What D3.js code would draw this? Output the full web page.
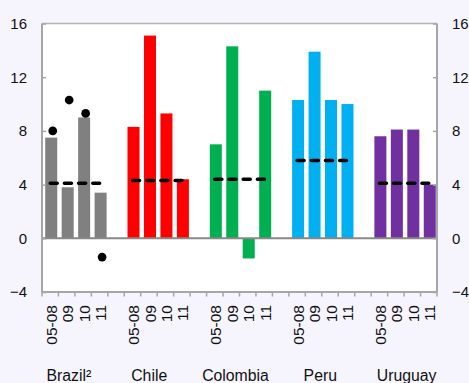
<!DOCTYPE html>
<html>
<head>
<meta charset="utf-8">
<script src="https://cdn.jsdelivr.net/npm/d3@7/dist/d3.min.js"></script>
<style>
  html, body { margin: 0; padding: 0; background: #f6f4fd; }
  svg { display: block; font-family: "Liberation Sans", Arial, sans-serif; }
</style>
</head>
<body>
<svg id="chart" width="469" height="383"></svg>
<script>
// Countries and the periods shown for each
const countries = ["Brazil²", "Chile", "Colombia", "Peru", "Uruguay"];
const periods = ["05-08", "09", "10", "11"];

// Bar values per country, in period order
const brazil   = [7.5, 3.8, 9.0, 3.4];
const chile    = [8.3, 15.1, 9.3, 4.4];
const colombia = [7.0, 14.3, -1.5, 11.0];
const peru     = [10.3, 13.9, 10.3, 10.0];
const uruguay  = [7.6, 8.1, 8.1, 4.0];

// Average level drawn as a dashed line across each group
const averages = [4.1, 4.3, 4.4, 5.8, 4.1];

// Alternative Brazil measure shown as markers
const brazilMarkers = [8.0, 10.3, 9.3, -1.4];

// Y axis ticks
const yTicks = [-4, 0, 4, 8, 12, 16];

const seriesValues = [brazil, chile, colombia, peru, uruguay];
const colors = ["#808080", "#ff0000", "#00b050", "#00b0f0", "#7030a0"];
// small horizontal shifts for the country captions
const captionShift = [-6, -8, -4, -1.5, 2.5];

const svg = d3.select("#chart");
const plotL = 42, plotR = 437, plotT = 23.5, plotB = 292;

// 24 slots: 4 per country plus one empty slot between countries
const slots = [];
countries.forEach((c, ci) => {
  periods.forEach((p, pi) => slots.push(ci + "|" + pi));
  if (ci < countries.length - 1) slots.push("gap" + ci);
});

const x = d3.scaleBand().domain(slots).range([plotL, plotR]).paddingInner(0.27).paddingOuter(0.135);
const xStep = d3.scaleBand().domain(slots).range([plotL, plotR]);
const y = d3.scaleLinear().domain([-4, 16]).range([plotB, plotT]);
const cx = key => xStep(key) + xStep.bandwidth() / 2;

// plot area
svg.append("rect").attr("x", plotL).attr("y", plotT)
  .attr("width", plotR - plotL).attr("height", plotB - plotT)
  .attr("fill", "#ffffff");

// bars
const barData = [];
seriesValues.forEach((vals, ci) => vals.forEach((v, pi) => barData.push({ci, pi, v})));
svg.append("g").selectAll("rect").data(barData).join("rect")
  .attr("x", d => cx(d.ci + "|" + d.pi) - x.bandwidth() / 2 + 1)
  .attr("width", x.bandwidth())
  .attr("y", d => y(Math.max(0, d.v)))
  .attr("height", d => Math.abs(y(d.v) - y(0)))
  .attr("fill", d => colors[d.ci]);

// zero line
svg.append("line").attr("x1", plotL).attr("x2", plotR)
  .attr("y1", y(0)).attr("y2", y(0))
  .attr("stroke", "#888888").attr("stroke-width", 2);

// average dashed lines
const avgLine = d3.line().x(d => d[0]).y(d => d[1]);
averages.forEach((a, ci) => {
  const pts = periods.map((p, pi) => [cx(ci + "|" + pi), y(a)]);
  svg.append("path").attr("d", avgLine(pts))
    .attr("fill", "none").attr("stroke", "#000")
    .attr("stroke-width", 3.6).attr("stroke-linecap", "round")
    .attr("stroke-dasharray", "7,7.2");
});

// Brazil markers
svg.append("g").selectAll("path").data(brazilMarkers).join("path")
  .attr("transform", (v, pi) => `translate(${cx("0|" + pi) + 2.5},${y(v)})`)
  .attr("d", d3.symbol().type(d3.symbolCircle).size(60))
  .attr("fill", "#000");

// frame
const frameColor = "#a6a6a6";
svg.append("line").attr("x1", plotL).attr("x2", plotR).attr("y1", plotT).attr("y2", plotT)
  .attr("stroke", "#b4b4b4").attr("stroke-width", 1.5);
svg.append("line").attr("x1", plotL).attr("x2", plotL).attr("y1", plotT).attr("y2", plotB)
  .attr("stroke", frameColor).attr("stroke-width", 2);
svg.append("line").attr("x1", plotR).attr("x2", plotR).attr("y1", plotT).attr("y2", plotB)
  .attr("stroke", frameColor).attr("stroke-width", 2);

// y axes (left and right), ticks pointing inward
const yLeft = d3.axisLeft(y).tickValues(yTicks).tickSizeInner(-4).tickSizeOuter(0).tickPadding(15);
const yRight = d3.axisRight(y).tickValues(yTicks).tickSizeInner(-4).tickSizeOuter(0).tickPadding(15);
[[yLeft, plotL], [yRight, plotR]].forEach(([ax, pos]) => {
  const g = svg.append("g").attr("transform", `translate(${pos},0)`).call(ax);
  g.select(".domain").remove();
  g.selectAll(".tick line").attr("stroke", frameColor).attr("stroke-width", 1.5);
  g.selectAll(".tick text").attr("fill", "#111").style("font-size", "15px")
    .style("font-family", "'Liberation Sans', Arial, sans-serif");
});

// x axis: ticks between slots, pointing down
const xBoundaries = slots.map(s => xStep(s)).concat([plotR]);
const xg = svg.append("g");
xg.append("line").attr("x1", plotL).attr("x2", plotR).attr("y1", plotB).attr("y2", plotB)
  .attr("stroke", frameColor).attr("stroke-width", 2);
xg.selectAll("line.tk").data(xBoundaries).join("line").attr("class", "tk")
  .attr("x1", d => d).attr("x2", d => d).attr("y1", plotB).attr("y2", plotB + 4.5)
  .attr("stroke", frameColor).attr("stroke-width", 1.5);

// period labels (rotated)
const periodLabels = [];
countries.forEach((c, ci) => periods.forEach((p, pi) => periodLabels.push({ci, pi, p})));
xg.selectAll("text.per").data(periodLabels).join("text").attr("class", "per")
  .attr("transform", d => `translate(${cx(d.ci + "|" + d.pi) + 1},${plotB + 13}) rotate(-90)`)
  .attr("text-anchor", "end").attr("dy", "0.36em")
  .style("font-size", "15.5px").attr("fill", "#111")
  .text(d => d.p);

// country captions
xg.selectAll("text.cty").data(countries).join("text").attr("class", "cty")
  .attr("x", (c, ci) => (cx(ci + "|0") + cx(ci + "|3")) / 2 + captionShift[ci])
  .attr("y", 381)
  .attr("text-anchor", "middle")
  .style("font-size", "15.8px").attr("fill", "#111")
  .text(c => c);
</script>
</body>
</html>
